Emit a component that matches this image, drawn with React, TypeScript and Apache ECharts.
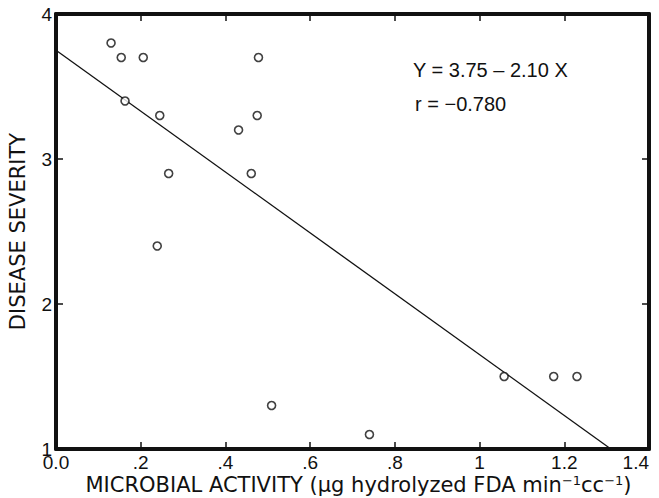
import React, { useEffect, useRef } from "react";
import * as echarts from "echarts";

const pointX = [0.130, 0.154, 0.206, 0.478, 0.163, 0.245, 0.475, 0.431, 0.266, 0.461, 0.239, 0.509, 0.740, 1.058, 1.175, 1.230];
const pointY = [3.8, 3.7, 3.7, 3.7, 3.4, 3.3, 3.3, 3.2, 2.9, 2.9, 2.4, 1.3, 1.1, 1.5, 1.5, 1.5];
const lineX = [0, 1.31];
const lineY = [3.75, 1.0];
const xTickLabels = ["0.0", ".2", ".4", ".6", ".8", "1", "1.2", "1.4"];
const yTickLabels = ["1", "2", "3", "4"];
const equationText = "Y = 3.75 \u2013 2.10 X";
const rText = "r = \u22120.780";
const xName = "MICROBIAL ACTIVITY (\u03bcg hydrolyzed FDA min{sup|\u22121}cc{sup|\u22121})";
const yName = "DISEASE SEVERITY";

const FONT = "'Liberation Sans', Arial, Helvetica, sans-serif";
const WIDE = "'DejaVu Sans', 'Liberation Sans', Arial, sans-serif";

export default function App() {
  const ref = useRef<HTMLDivElement>(null);
  useEffect(() => {
    if (!ref.current) return;
    const chart = echarts.init(ref.current, undefined, { renderer: "svg" });
    const axisLine = { show: true, onZero: false, lineStyle: { color: "#111", width: 4 } };
    const axisTick = { show: true, inside: true, length: 7, lineStyle: { color: "#111", width: 1.5 } };
    const option: any = {
      animation: false,
      backgroundColor: "#fff",
      grid: { left: 56, right: 10, top: 14, bottom: 49, containLabel: false, outerBoundsMode: "none" },
      xAxis: [
        {
          type: "value",
          min: 0,
          max: 1.4,
          interval: 0.2,
          position: "bottom",
          axisLine,
          axisTick,
          splitLine: { show: false },
          axisLabel: {
            color: "#111",
            fontSize: 19,
            fontFamily: FONT,
            margin: 4,
            alignMaxLabel: "right",
            formatter: (v: number) => xTickLabels[Math.round(v / 0.2)] ?? "",
          },
          name: xName,
          nameLocation: "middle",
          nameGap: 25,
          nameMoveOverlap: false,
          nameTextStyle: {
            color: "#111",
            fontSize: 21,
            fontFamily: WIDE,
            lineHeight: 22,
            padding: [0, 0, 0, 12],
            rich: {
              sup: { fontSize: 13, fontFamily: WIDE, color: "#111", verticalAlign: "top", lineHeight: 12 },
            },
          },
        },
        {
          type: "value",
          min: 0,
          max: 1.4,
          interval: 0.2,
          position: "top",
          axisLine,
          axisTick,
          axisLabel: { show: false },
          splitLine: { show: false },
        },
      ],
      yAxis: [
        {
          type: "value",
          min: 1,
          max: 4,
          interval: 1,
          position: "left",
          axisLine,
          axisTick,
          splitLine: { show: false },
          axisLabel: {
            color: "#111",
            fontSize: 19,
            fontFamily: FONT,
            margin: 4,
            formatter: (v: number) => yTickLabels[Math.round(v - 1)] ?? "",
          },
          name: yName,
          nameLocation: "middle",
          nameGap: 28,
          nameTextStyle: { color: "#111", fontSize: 21, fontFamily: WIDE },
        },
        {
          type: "value",
          min: 1,
          max: 4,
          interval: 1,
          position: "right",
          axisLine,
          axisTick,
          axisLabel: { show: false },
          splitLine: { show: false },
        },
      ],
      series: [
        {
          type: "line",
          data: lineX.map((x, i) => [x, lineY[i]]),
          showSymbol: false,
          symbol: "none",
          lineStyle: { color: "#111", width: 1.3 },
          z: 2,
        },
        {
          type: "scatter",
          data: pointX.map((x, i) => [x, pointY[i]]),
          symbol: "circle",
          symbolSize: 8,
          itemStyle: { color: "#fff", borderColor: "#111", borderWidth: 1.6 },
          z: 3,
        },
      ],
      graphic: [
        {
          type: "text",
          x: 413,
          y: 70,
          style: { text: equationText, fill: "#111", fontSize: 20, fontFamily: FONT, verticalAlign: "middle", align: "left" },
        },
        {
          type: "text",
          x: 415,
          y: 104,
          style: { text: rText, fill: "#111", fontSize: 20, fontFamily: FONT, verticalAlign: "middle", align: "left" },
        },
      ],
    };
    chart.setOption(option);
    return () => chart.dispose();
  }, []);
  return (
    <div
      ref={ref}
      style={{ position: "fixed", left: 0, top: 0, width: 659, height: 498, background: "#fff" }}
    />
  );
}
